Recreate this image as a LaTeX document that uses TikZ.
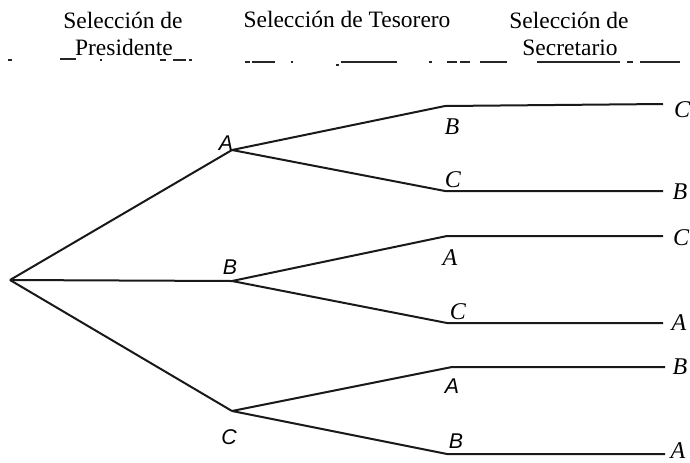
\documentclass[tikz,border=0pt]{standalone}
\usepackage{fontspec}
\setmainfont{Liberation Serif}
\newfontfamily\arialf{Liberation Sans}
\begin{document}
\begin{tikzpicture}[x=0.75pt,y=-0.75pt,
  branch/.style={line width=1.5pt,color=black!90},
  frag/.style={line width=1.3pt,color=black!85},
  head/.style={font=\fontsize{17.6pt}{21pt}\selectfont,inner sep=0pt,anchor=base},
  lab/.style={font=\fontsize{18pt}{21pt}\selectfont\itshape,inner sep=0pt,anchor=base},
  slab/.style={font=\arialf\fontsize{16pt}{18pt}\selectfont\itshape,inner sep=0pt,anchor=base}]
\useasboundingbox (0,0) rectangle (690,462);
% headers
\node[head] (h1a) at (123,28) {Selección de};
\node[head] (h1b) at (124,55) {Presidente};
\node[head] (h2) at (347,27) {Selección de Tesorero};
\node[head] (h3a) at (569,28) {Selección de};
\node[head] (h3b) at (570,55) {Secretario};
% underline fragments
\foreach \a/\b/\y in {8/12/60,60/76/59,100/102/60,160/166/60,173/186/60,189/192/60,
  245/250/62,252/275/62,291/293/62,336/339/65,341/397/62,429/432/62,447/457/62,
  460/470/62,480/507/62,537/620/62,627/633/62,640/680/62}
  \draw[frag] (\a,\y) -- (\b,\y);
% tree points
\coordinate (R) at (10,280);
\coordinate (A1) at (232,150);
\coordinate (B1) at (232,281);
\coordinate (C1) at (232,411);
\coordinate (AB) at (445,106);
\coordinate (AC) at (445,191);
\coordinate (BA) at (447,236);
\coordinate (BC) at (447,323);
\coordinate (CA) at (452,367);
\coordinate (CB) at (447,454);
\coordinate (ABe) at (663,104);
\coordinate (ACe) at (663,191);
\coordinate (BAe) at (663,236);
\coordinate (BCe) at (663,323);
\coordinate (CAe) at (665,367);
\coordinate (CBe) at (665,454);
% branches
\draw[branch] (R) -- (A1);
\draw[branch] (R) -- (B1);
\draw[branch] (R) -- (C1);
\draw[branch] (A1) -- (AB) -- (ABe);
\draw[branch] (A1) -- (AC) -- (ACe);
\draw[branch] (B1) -- (BA) -- (BAe);
\draw[branch] (B1) -- (BC) -- (BCe);
\draw[branch] (C1) -- (CA) -- (CAe);
\draw[branch] (C1) -- (CB) -- (CBe);
% level 1 labels
\node[slab] (lA1) at (226,150) {A};
\node[slab] (lB1) at (230,274) {B};
\node[slab] (lC1) at (229,444) {C};
% level 2 labels
\node[lab] (lAB) at (452,134) {B};
\node[lab] (lAC) at (453,187) {C};
\node[lab] (lBA) at (450,265) {A};
\node[lab] (lBC) at (458,319) {C};
\node[slab] (lCA) at (452,393) {A};
\node[slab] (lCB) at (456,448) {B};
% final labels
\node[lab] (eAB) at (682,117) {C};
\node[lab] (eAC) at (680,199) {B};
\node[lab] (eBA) at (681,245) {C};
\node[lab] (eBC) at (679,330) {A};
\node[lab] (eCA) at (680,374) {B};
\node[lab] (eCB) at (678,458) {A};
\end{tikzpicture}
\end{document}
